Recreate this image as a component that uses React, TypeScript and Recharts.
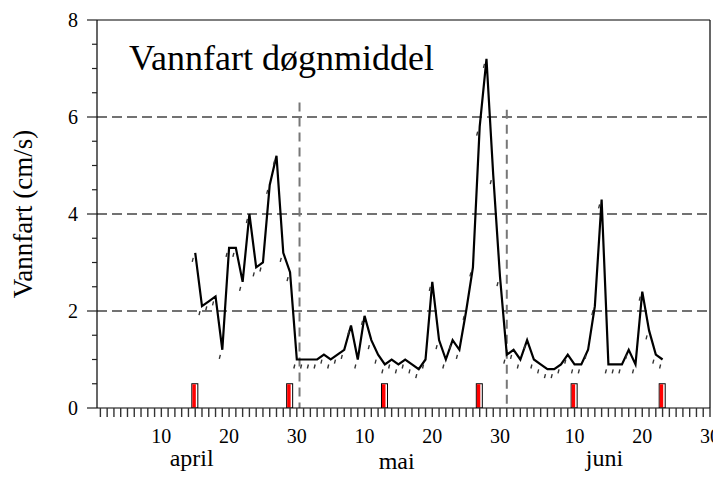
import { ComposedChart, Line, Bar, XAxis, YAxis, ReferenceLine } from 'recharts';

const FONT = '"Liberation Serif", "Times New Roman", Times, serif';

// daily mean flow, starting 15 april (day 15 of the series)
const firstDay = 15;
const flow = [
  3.2, 2.1, 2.2, 2.3, 1.2, 3.3, 3.3, 2.6, 4.0, 2.9, 3.0, 4.6, 5.2, 3.2, 2.8, 1.0,
  1.0, 1.0, 1.0, 1.1, 1.0, 1.1, 1.2, 1.7, 1.0, 1.9, 1.4, 1.1, 0.9, 1.0, 0.9, 1.0,
  0.9, 0.8, 1.0, 2.6, 1.4, 1.0, 1.4, 1.2, 2.0, 2.9, 5.8, 7.2, 4.8, 2.7, 1.1, 1.2,
  1.0, 1.4, 1.0, 0.9, 0.8, 0.8, 0.9, 1.1, 0.9, 0.9, 1.2, 2.1, 4.3, 0.9, 0.9, 0.9,
  1.2, 0.9, 2.4, 1.6, 1.1, 1.0,
];

// red markers at the bottom
const markDays = [15, 29, 43, 57, 71, 84];
const markHeight = 0.5;

const dayLabelDays = [10, 20, 30, 40, 50, 60, 71, 81, 91];
const dayLabelTexts = ['10', '20', '30', '10', '20', '30', '10', '20', '30'];
const monthNames = ['april', 'mai', 'juni'];
const monthCenters = [13.9, 44, 74.5];

const yTicks = [0, 0.5, 1, 1.5, 2, 2.5, 3, 3.5, 4, 4.5, 5, 5.5, 6, 6.5, 7, 7.5, 8];
const gridValues = [2, 4, 6];
const splitDays = [30.4, 61];
const splitTops = [6.3, 6.15];

const days = Array.from({ length: 91 }, (_, i) => i + 1);
const data = days.map((d) => ({
  day: d,
  flow: flow[d - firstDay] ?? null,
  mark: markDays.includes(d) ? markHeight : null,
}));

const dayLabel = (d: number) => {
  const i = dayLabelDays.indexOf(d);
  return i >= 0 ? dayLabelTexts[i] : '';
};

const YTick = (props: any) => {
  const { x, y, payload } = props;
  const major = payload.value % 2 === 0;
  return (
    <g>
      <line x1={x - (major ? 10 : 5)} x2={x} y1={y} y2={y} stroke="#222" strokeWidth={1.2} />
      {major && (
        <text x={x - 19} y={y} dy="0.35em" textAnchor="end" fontSize={20} fontFamily={FONT} fill="#000">
          {payload.value}
        </text>
      )}
    </g>
  );
};

const MonthTick = (props: any) => {
  const { x, y, index } = props;
  const name = monthNames[index];
  return (
    <text x={x} y={y + (name === 'mai' ? 21 : 18)} textAnchor="middle" fontSize={24} fontFamily={FONT} fill="#000">
      {name}
    </text>
  );
};

const MarkDot = (props: any) => {
  const { cx, cy, index } = props;
  if (cy == null || cx == null) return <g key={index} />;
  return <line key={index} x1={cx - 3} y1={cy + 9} x2={cx - 2} y2={cy + 5} stroke="#333" strokeWidth={1.4} />;
};

const MarkBar = (props: any) => {
  const { x, y, width, height } = props;
  if (!height) return null;
  return (
    <g>
      <rect x={x} y={y} width={width} height={height} fill="#fff" stroke="#000" strokeWidth={1} />
      <rect x={x + 0.5} y={y + 0.5} width={width - 2.5} height={height - 1} fill="#ff0000" />
    </g>
  );
};

const App = () => {
  return (
    <div style={{ position: 'absolute', left: 0, top: 0, width: 713, height: 477, background: '#fff' }}>
      <div
        style={{
          position: 'absolute',
          left: 129,
          top: 40,
          fontFamily: FONT,
          fontSize: 36,
          lineHeight: '36px',
          color: '#000',
          whiteSpace: 'nowrap',
        }}
      >
        Vannfart døgnmiddel
      </div>
      <ComposedChart width={713} height={477} data={data} margin={{ top: 20, right: 3, left: 0, bottom: 9 }}>
        <XAxis
          dataKey="day"
          type="number"
          domain={[0.5, 91]}
          allowDataOverflow
          ticks={days}
          interval={0}
          tickFormatter={dayLabel}
          tickSize={9}
          tickMargin={12}
          height={30}
          axisLine={{ stroke: '#000', strokeWidth: 1.2 }}
          tickLine={{ stroke: '#333', strokeWidth: 1.4 }}
          tick={{ fontSize: 20, fontFamily: FONT, fill: '#000' }}
        />
        <XAxis
          xAxisId="month"
          type="number"
          domain={[0.5, 91]}
          allowDataOverflow
          ticks={monthCenters}
          interval={0}
          tickSize={0}
          tickMargin={10}
          height={30}
          axisLine={false}
          tickLine={false}
          tick={<MonthTick />}
        />
        <YAxis
          type="number"
          domain={[0, 8]}
          allowDataOverflow
          ticks={yTicks}
          interval={0}
          width={97}
          tickSize={0}
          tickMargin={0}
          tickLine={false}
          axisLine={{ stroke: '#000', strokeWidth: 1.2 }}
          tick={<YTick />}
          label={{
            value: 'Vannfart (cm/s)',
            angle: -90,
            position: 'insideLeft',
            offset: 22,
            style: { textAnchor: 'middle', fontSize: 27, fontFamily: FONT, fill: '#000' },
          }}
        />
        {gridValues.map((v) => (
          <ReferenceLine key={v} y={v} stroke="#444" strokeWidth={1.3} strokeDasharray="10 5" />
        ))}
        <ReferenceLine y={8} stroke="#000" strokeWidth={1.2} />
        <ReferenceLine x={91} stroke="#000" strokeWidth={1.2} />
        {splitDays.map((d, i) => (
          <ReferenceLine
            key={d}
            segment={[
              { x: d, y: splitTops[i] },
              { x: d, y: 0 },
            ]}
            stroke="#777"
            strokeWidth={2}
            strokeDasharray="9 6"
          />
        ))}
        <Bar dataKey="mark" barSize={6} shape={<MarkBar />} isAnimationActive={false} />
        <Line
          type="linear"
          dataKey="flow"
          stroke="#000"
          strokeWidth={2.2}
          dot={MarkDot}
          activeDot={false}
          isAnimationActive={false}
        />
      </ComposedChart>
    </div>
  );
};

export default App;
